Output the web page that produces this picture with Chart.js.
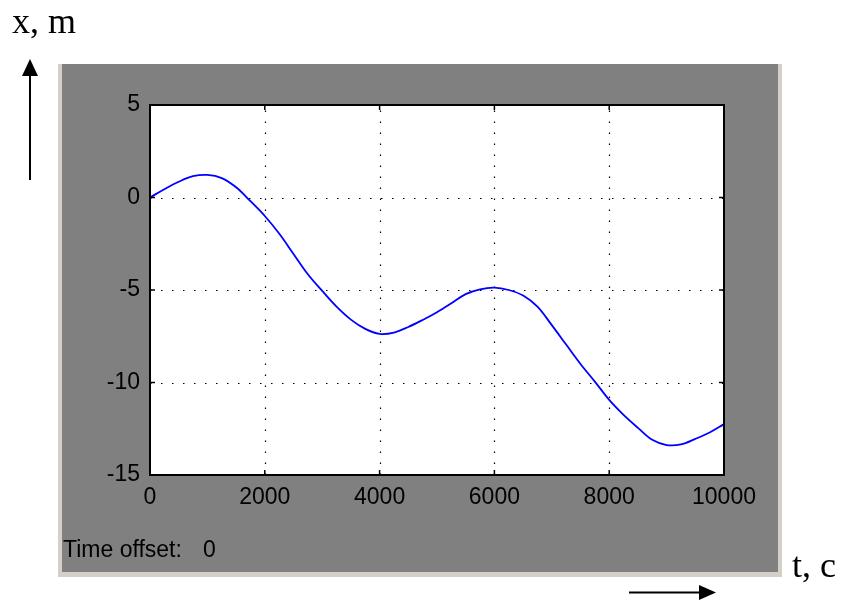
<!DOCTYPE html>
<html><head><meta charset="utf-8">
<script src="https://cdn.jsdelivr.net/npm/chart.js@4"></script>
<style>
html,body{margin:0;padding:0;background:#fff;}
#wrap{position:relative;width:841px;height:600px;overflow:hidden;}
canvas{position:absolute;left:0;top:0;}
.lab{position:absolute;white-space:pre;color:#000;}
.serif{font-family:"Liberation Serif","Times New Roman",serif;font-size:36px;line-height:36px;}
.sans{font-family:"Liberation Sans",Arial,sans-serif;font-size:23px;line-height:23px;}
</style></head><body>
<div id="wrap">
<canvas id="c" width="841" height="600"></canvas>
<div class="lab serif" style="left:12px;top:3px">x, m</div>
<div class="lab serif" style="left:792px;top:547px">t, c</div>
<div class="lab sans" style="left:63px;top:538px">Time offset:<span style="margin-left:21px">0</span></div>
</div>
<script>
const timeValues = [0,250,500,750,1000,1250,1500,1750,2000,2250,2500,2750,3000,3250,3500,3750,4000,4250,4500,4750,5000,5250,5500,5750,6000,6250,6500,6750,7000,7250,7500,7750,8000,8250,8500,8750,9000,9250,9500,9750,10000];
const positionValues = [0,0.45,0.85,1.15,1.22,1.05,0.55,-0.2,-1.0,-1.95,-3.05,-4.15,-5.05,-5.9,-6.6,-7.1,-7.37,-7.3,-7.0,-6.62,-6.2,-5.72,-5.22,-4.96,-4.87,-5.0,-5.3,-5.9,-6.9,-7.95,-9.0,-9.95,-10.94,-11.75,-12.45,-13.1,-13.38,-13.35,-13.05,-12.7,-12.25];
const xTickValues = [0,2000,4000,6000,8000,10000];
const yTickValues = [5,0,-5,-10,-15];

const points = timeValues.map((t,i)=>({x:t,y:positionValues[i]}));

const panel = {
  id:'panel',
  beforeDraw(chart){
    const ctx = chart.ctx, a = chart.chartArea;
    ctx.save();
    ctx.fillStyle = '#ffffff'; ctx.fillRect(0,0,841,600);
    ctx.fillStyle = '#d4d0c8'; ctx.fillRect(58,64,724,513);
    ctx.fillStyle = '#808080'; ctx.fillRect(62,64,716,508);
    ctx.fillStyle = '#ffffff'; ctx.fillRect(a.left,a.top,a.right-a.left,a.bottom-a.top);
    // arrows
    ctx.strokeStyle = '#000'; ctx.fillStyle = '#000'; ctx.lineWidth = 2;
    ctx.beginPath(); ctx.moveTo(30,180); ctx.lineTo(30,72); ctx.stroke();
    ctx.beginPath(); ctx.moveTo(30,59); ctx.lineTo(22,76); ctx.lineTo(38,76); ctx.closePath(); ctx.fill();
    ctx.beginPath(); ctx.moveTo(629,592.5); ctx.lineTo(702,592.5); ctx.stroke();
    ctx.beginPath(); ctx.moveTo(716,592.5); ctx.lineTo(699,585); ctx.lineTo(699,600); ctx.closePath(); ctx.fill();
    ctx.restore();
  },
  beforeDatasetsDraw(chart){
    const ctx = chart.ctx, a = chart.chartArea, xs = chart.scales.x, ys = chart.scales.y;
    ctx.save();
    ctx.strokeStyle = '#000'; ctx.lineWidth = 1.2; ctx.setLineDash([1.5,9.5]);
    xs.ticks.forEach(t=>{
      const p = Math.round(xs.getPixelForValue(t.value))+0.5;
      if (p <= a.left+1 || p >= a.right-1) return;
      ctx.beginPath(); ctx.moveTo(p,a.bottom); ctx.lineTo(p,a.top); ctx.stroke();
    });
    ys.ticks.forEach(t=>{
      const p = Math.round(ys.getPixelForValue(t.value))+0.5;
      if (p <= a.top+1 || p >= a.bottom-1) return;
      ctx.beginPath(); ctx.moveTo(a.left,p); ctx.lineTo(a.right,p); ctx.stroke();
    });
    ctx.restore();
  },
  afterDatasetsDraw(chart){
    const ctx = chart.ctx, a = chart.chartArea, xs = chart.scales.x, ys = chart.scales.y;
    ctx.save();
    ctx.strokeStyle = '#000'; ctx.lineWidth = 2; ctx.setLineDash([]);
    ctx.strokeRect(a.left, a.top, a.right-a.left, a.bottom-a.top);
    ctx.lineWidth = 1.5;
    const L = 5;
    xs.ticks.forEach(t=>{
      const p = xs.getPixelForValue(t.value);
      ctx.beginPath(); ctx.moveTo(p,a.bottom); ctx.lineTo(p,a.bottom-L); ctx.stroke();
      ctx.beginPath(); ctx.moveTo(p,a.top); ctx.lineTo(p,a.top+L); ctx.stroke();
    });
    ys.ticks.forEach(t=>{
      const p = ys.getPixelForValue(t.value);
      ctx.beginPath(); ctx.moveTo(a.left,p); ctx.lineTo(a.left+L,p); ctx.stroke();
      ctx.beginPath(); ctx.moveTo(a.right,p); ctx.lineTo(a.right-L,p); ctx.stroke();
    });
    ctx.restore();
  }
};

const tickFont = {family:'"Liberation Sans", Arial, sans-serif', size:23};

new Chart(document.getElementById('c'), {
  type:'line',
  data:{datasets:[{
    data: points,
    borderColor:'#0000ff',
    borderWidth:1.8,
    pointRadius:0,
    tension:0.35,
    fill:false
  }]},
  options:{
    responsive:false,
    animation:false,
    events:[],
    layout:{padding:{left:70,right:117,top:105,bottom:95}},
    plugins:{legend:{display:false},tooltip:{enabled:false},title:{display:false}},
    scales:{
      x:{
        type:'linear', min:0, max:10000,
        afterBuildTicks(s){ s.ticks = xTickValues.map(v=>({value:v})); },
        afterFit(s){ s.height = 30; },
        grid:{display:false, drawTicks:false},
        border:{display:false},
        ticks:{color:'#000', font:tickFont, padding:9, maxRotation:0, autoSkip:false, callback:v=>String(v)}
      },
      y:{
        type:'linear', min:-15, max:5,
        afterBuildTicks(s){ s.ticks = yTickValues.map(v=>({value:v})); },
        afterFit(s){ s.width = 80; },
        grid:{display:false, drawTicks:false},
        border:{display:false},
        ticks:{color:'#000', font:tickFont, padding:10, autoSkip:false, callback:v=>String(v)}
      }
    }
  },
  plugins:[panel]
});
</script>
</body></html>
